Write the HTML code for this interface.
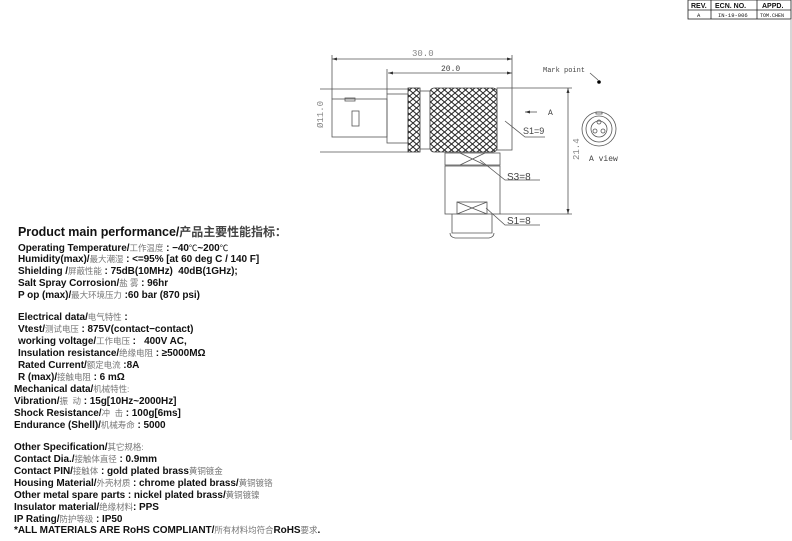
<!DOCTYPE html>
<html><head><meta charset="utf-8"><style>
body{margin:0;width:792px;height:541px;background:#fff;position:relative;overflow:hidden;font-family:"Liberation Sans","Noto Sans CJK SC",sans-serif}
.t{position:absolute;left:18px;font-size:10px;line-height:12px;height:12px;font-weight:bold;color:#111;white-space:nowrap;letter-spacing:-0.05px}
.t span{font-weight:normal;color:#777;font-size:8.5px;line-height:12px}
.h{font-size:12.5px;left:18px;line-height:14px;height:14px}
.h span{font-size:12px;color:#444;font-weight:bold;line-height:14px}
</style></head><body>
<svg width="792" height="541" style="position:absolute;left:0;top:0" font-family="Liberation Mono, monospace">
<defs><pattern id="k" width="7" height="6" patternUnits="userSpaceOnUse"><path d="M0 3L3.5 0L7 3L3.5 6Z" fill="none" stroke="#222" stroke-width="1"/></pattern></defs>
<g stroke="#555" fill="none" stroke-width="0.8">
<rect x="688" y="0" width="103" height="19" stroke="#222"/>
<line x1="688" y1="10" x2="791" y2="10" stroke="#222"/>
<line x1="711" y1="0" x2="711" y2="19" stroke="#222"/>
<line x1="757" y1="0" x2="757" y2="19" stroke="#222"/>
<line x1="791" y1="19" x2="791" y2="440" stroke="#999"/>
<line x1="332" y1="59" x2="512" y2="59"/>
<line x1="388" y1="73" x2="512" y2="73"/>
<line x1="332" y1="55" x2="332" y2="99"/>
<line x1="387" y1="69" x2="387" y2="94"/>
<line x1="512" y1="55" x2="512" y2="88"/>
<line x1="568" y1="88" x2="568" y2="214"/>
<line x1="512" y1="88" x2="572" y2="88"/>
<line x1="500" y1="214" x2="572" y2="214"/>
<line x1="320" y1="89" x2="408" y2="89"/>
<line x1="320" y1="152" x2="408" y2="152"/>
<rect x="332" y="99" width="55" height="38"/>
<rect x="345" y="98" width="10" height="3"/>
<rect x="352" y="111" width="7" height="15"/>
<rect x="387" y="94" width="21" height="49"/>
<rect x="408" y="88" width="12" height="64" fill="url(#k)" stroke="#333"/>
<line x1="420" y1="91" x2="430" y2="91"/><line x1="420" y1="149" x2="430" y2="149"/>
<rect x="430" y="88" width="67" height="64" rx="4" fill="url(#k)" stroke="#333"/>
<rect x="497" y="88" width="15" height="62"/>
<rect x="445" y="153" width="55" height="12"/>
<path d="M460 153L485 165M485 153L460 165"/>
<rect x="445" y="166" width="55" height="48"/>
<rect x="457" y="202" width="30" height="12"/>
<path d="M457 202L487 214M487 202L457 214"/>
<path d="M452 214V233h40V214"/>
<path d="M450 233q0 4 5 5h34q5-1 5-5"/>
<line x1="537" y1="112" x2="525" y2="112"/>
<path d="M505 121L525 137H545"/>
<path d="M480 160L505 180H540"/>
<path d="M486 208L505 225H540"/>
<line x1="590" y1="73" x2="598" y2="80"/>
<circle cx="599" cy="129" r="17"/><circle cx="599" cy="129" r="13"/><circle cx="599" cy="129" r="8"/>
<circle cx="599" cy="122" r="2"/><circle cx="595" cy="131" r="2"/><circle cx="603" cy="131" r="2"/>
<path d="M596 114h6v-2h-6z"/>
</g>
<circle cx="599" cy="82" r="1.8" fill="#000"/>
<path d="M332 59l5-1.5v3zM512 59l-5-1.5v3zM388 73l5-1.5v3zM512 73l-5-1.5v3zM568 88l-1.5 5h3zM568 214l-1.5-5h3zM525 112l5-1.5v3z" fill="#333"/>
<g font-size="8" fill="#444">
<text x="412" y="56" font-size="9" fill="#888">30.0</text>
<text x="441" y="71">20.0</text>
<text x="543" y="72" font-size="7">Mark point</text>
<text x="548" y="115" font-size="8">A</text>
<text x="523" y="134" font-family="Liberation Sans" font-size="9">S1=9</text>
<text x="507" y="180" font-family="Liberation Sans" font-size="10">S3=8</text>
<text x="507" y="224" font-family="Liberation Sans" font-size="10">S1=8</text>
<text x="589" y="161" font-size="8">A view</text>
<text transform="translate(579,160) rotate(-90)" font-size="9" fill="#888">21.4</text>
<text transform="translate(323,128) rotate(-90)" font-size="9" fill="#888">Ø11.0</text>
<text x="691" y="8" font-family="Liberation Sans" font-size="7" font-weight="bold" fill="#111">REV.</text>
<text x="715" y="8" font-family="Liberation Sans" font-size="7" font-weight="bold" fill="#111">ECN. NO.</text>
<text x="762" y="8" font-family="Liberation Sans" font-size="7" font-weight="bold" fill="#111">APPD.</text>
<text x="697" y="17" font-size="5.5" fill="#111">A</text>
<text x="718" y="17" font-size="5.5" fill="#111">IN-19-006</text>
<text x="760" y="17" font-size="5" fill="#111">TOM.CHEN</text>
</g>
</svg>
<div class="t h" style="top:225px">Product main performance/<span>产品主要性能指标：</span></div>
<div class="t" style="top:242px">Operating Temperature/<span>工作温度</span> : −40<span style="color:#111">℃</span>~200<span style="color:#111">℃</span></div>
<div class="t" style="top:253px">Humidity(max)/<span>最大潮湿</span> : &lt;=95% [at 60 deg C / 140 F]</div>
<div class="t" style="top:265px">Shielding /<span>屏蔽性能</span> : 75dB(10MHz) &nbsp;40dB(1GHz);</div>
<div class="t" style="top:277px">Salt Spray Corrosion/<span>盐 雾</span> : 96hr</div>
<div class="t" style="top:289px">P op (max)/<span>最大环境压力</span> :60 bar (870 psi)</div>
<div class="t" style="top:311px">Electrical data/<span>电气特性</span> :</div>
<div class="t" style="top:323px">Vtest/<span>测试电压</span> : 875V(contact−contact)</div>
<div class="t" style="top:335px">working voltage/<span>工作电压</span> : &nbsp; 400V AC,</div>
<div class="t" style="top:347px">Insulation resistance/<span>绝缘电阻</span> : ≥5000MΩ</div>
<div class="t" style="top:359px">Rated Current/<span>额定电流</span> :8A</div>
<div class="t" style="top:371px">R (max)/<span>接触电阻</span> : 6 mΩ</div>
<div class="t" style="top:383px;left:14px">Mechanical data/<span>机械特性:</span></div>
<div class="t" style="top:395px;left:14px">Vibration/<span>振 &nbsp;动</span> : 15g[10Hz~2000Hz]</div>
<div class="t" style="top:407px;left:14px">Shock Resistance/<span>冲 &nbsp;击</span> : 100g[6ms]</div>
<div class="t" style="top:419px;left:14px">Endurance (Shell)/<span>机械寿命</span> : 5000</div>
<div class="t" style="top:441px;left:14px">Other Specification/<span>其它规格:</span></div>
<div class="t" style="top:453px;left:14px">Contact Dia./<span>接触体直径</span> : 0.9mm</div>
<div class="t" style="top:465px;left:14px">Contact PIN/<span>接触体</span> : gold plated brass<span>黄铜镀金</span></div>
<div class="t" style="top:477px;left:14px">Housing Material/<span>外壳材质</span> : chrome plated brass/<span>黄铜镀铬</span></div>
<div class="t" style="top:489px;left:14px">Other metal spare parts : nickel plated brass/<span>黄铜镀镍</span></div>
<div class="t" style="top:501px;left:14px">Insulator material/<span>绝缘材料</span>: PPS</div>
<div class="t" style="top:513px;left:14px">IP Rating/<span>防护等级</span> : IP50</div>
<div class="t" style="top:524px;left:14px">*ALL MATERIALS ARE RoHS COMPLIANT/<span>所有材料均符合</span>RoHS<span>要求</span>.</div>
</body></html>
